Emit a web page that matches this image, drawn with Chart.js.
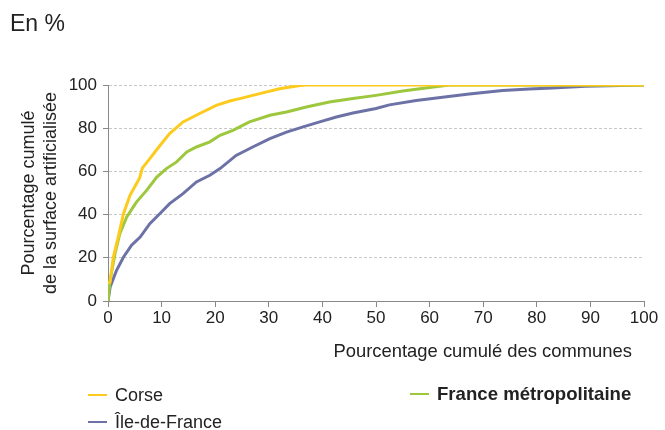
<!DOCTYPE html>
<html lang="fr">
<head>
<meta charset="utf-8">
<script src="https://cdn.jsdelivr.net/npm/chart.js@4/dist/chart.umd.min.js"></script>
<style>
  html, body { margin: 0; padding: 0; background: #fff; }
  #wrap { position: relative; width: 665px; height: 430px; font-family: "Liberation Sans", Arial, sans-serif; color: #222; }
  #chart { position: absolute; left: 0; top: 0; }
  .unit { position: absolute; left: 10px; top: 10px; font-size: 23px; }
  .leg { position: absolute; font-size: 18px; line-height: 20px; white-space: nowrap; }
  .leg i { display: inline-block; width: 19px; height: 2px; vertical-align: middle; margin-right: 8px; position: relative; top: -1px; }
</style>
</head>
<body>
<div id="wrap">
  <canvas id="chart" width="665" height="430"></canvas>
  <div class="unit">En %</div>
  <div class="leg" style="left:88px; top:385px;"><i style="background:#FDCB1D"></i>Corse</div>
  <div class="leg" style="left:88px; top:412px;"><i style="background:#6C72A6"></i>Île-de-France</div>
  <div class="leg" style="left:410px; top:384px; font-weight:bold; font-size:18.6px;"><i style="background:#9DC73D"></i>France métropolitaine</div>
</div>
<script>
// ── Données ─────────────────────────────────────────────────────────────────

const corseX = [0, 0.4, 1.0, 1.9, 2.9, 4.1, 5.3, 5.9, 6.4, 7.8, 9.7, 11.5, 14, 17.1, 20.2, 22.7, 24.6, 28.3, 32, 35.8, 37, 100];
const corseY = [8, 9, 20.4, 29.6, 40.5, 48.9, 54.3, 57, 61.5, 65.9, 72, 77.5, 82.9, 86.8, 90.6, 92.6, 93.7, 96, 98.3, 99.8, 100, 100];

const franceX = [0, 0.4, 1.3, 2.2, 3.5, 5.3, 7.2, 9.1, 10.9, 12.8, 14.7, 16.5, 19, 20.9, 23.3, 26.4, 30.2, 33.3, 37, 41.3, 45.7, 50, 55, 60, 63.7, 100];
const franceY = [0, 9.6, 21.9, 31.2, 38.9, 45.8, 51.2, 57.4, 61.3, 64.4, 69, 71.3, 73.7, 76.7, 79, 82.9, 86, 87.5, 89.8, 92.1, 93.7, 95.2, 97.2, 98.8, 100, 100];

const idfX = [0, 0.4, 1.6, 2.9, 4.4, 6, 7.8, 9.7, 11.5, 14, 16.5, 19, 20.9, 23.9, 27, 30.2, 33.3, 36.4, 39.5, 42.6, 45.7, 50, 52.5, 57.5, 62.4, 67.4, 73.6, 78.6, 82.9, 89.1, 100];
const idfY = [0, 6.5, 14.2, 20.4, 25.8, 29.6, 35.8, 40.5, 45.1, 49.7, 55.1, 58.2, 61.3, 67.4, 71.3, 75.2, 78.2, 80.6, 82.9, 85.2, 87, 89.1, 90.8, 92.8, 94.3, 95.8, 97.4, 98.1, 98.6, 99.4, 100];

const seriesNames = ['Corse', 'France métropolitaine', 'Île-de-France'];
const xTicks = [0, 10, 20, 30, 40, 50, 60, 70, 80, 90, 100];
const yTicks = [0, 20, 40, 60, 80, 100];
const xTitle = 'Pourcentage cumulé des communes';

// ── Chart ───────────────────────────────────────────────────────────────────

const COLORS = ['#FDCB1D', '#9DC73D', '#6C72A6'];
const FONT = '"Liberation Sans", Arial, sans-serif';

const toPoints = (xs, ys) => xs.map((x, i) => ({ x, y: ys[i] }));

function lineDataset(label, data, color) {
    return {
        label,
        data,
        borderColor: color,
        backgroundColor: color,
        borderWidth: 3,
        pointRadius: 0,
        tension: 0,
        fill: false,
    };
}

// Corse en premier => dessinée au-dessus
const datasets = [
    lineDataset(seriesNames[0], toPoints(corseX, corseY), COLORS[0]),
    lineDataset(seriesNames[1], toPoints(franceX, franceY), COLORS[1]),
    lineDataset(seriesNames[2], toPoints(idfX, idfY), COLORS[2]),
];

// titre de l'axe X, aligné à droite mais un peu en retrait du bout de l'axe
const xTitlePlugin = {
    id: 'xTitle',
    afterDraw(chart) {
        const { ctx, chartArea } = chart;
        ctx.save();
        ctx.font = `18.4px ${FONT}`;
        ctx.fillStyle = '#222';
        ctx.textAlign = 'right';
        ctx.textBaseline = 'middle';
        ctx.fillText(xTitle, chartArea.right - 12, 352);
        ctx.restore();
    },
};

new Chart(document.getElementById('chart'), {
    type: 'line',
    data: { datasets },
    plugins: [xTitlePlugin],
    options: {
        responsive: false,
        animation: false,
        layout: { padding: { top: 85, left: 0, right: 21, bottom: 68 } },
        plugins: {
            legend: { display: false },
            tooltip: { enabled: false },
        },
        scales: {
            x: {
                type: 'linear',
                min: 0,
                max: 100,
                afterFit(scale) { scale.height = 61; },
                afterBuildTicks(scale) { scale.ticks = xTicks.map(v => ({ value: v })); },
                grid: { drawOnChartArea: false, drawTicks: true, tickLength: 6, tickColor: '#888' },
                border: { color: '#888', width: 1 },
                ticks: { color: '#222', font: { family: FONT, size: 17 }, padding: 1, maxRotation: 0 },
            },
            y: {
                type: 'linear',
                min: 0,
                max: 100,
                afterFit(scale) { scale.width = 108; },
                afterBuildTicks(scale) { scale.ticks = yTicks.map(v => ({ value: v })); },
                grid: {
                    color: ctx => (ctx.tick && ctx.tick.value === 0 ? 'rgba(0,0,0,0)' : '#c8c8c8'),
                    tickColor: '#888',
                    tickLength: 5,
                    tickBorderDash: [],
                    lineWidth: 1,
                },
                border: { color: '#888', width: 1, dash: [3, 2] },
                ticks: { color: '#222', font: { family: FONT, size: 17 }, padding: 6 },
                title: {
                    display: true,
                    text: ['Pourcentage cumulé', 'de la surface artificialisée'],
                    color: '#222',
                    font: { family: FONT, size: 18, lineHeight: 1.222 },
                    padding: { top: 18, bottom: 0 },
                },
            },
        },
    },
});
</script>
</body>
</html>
